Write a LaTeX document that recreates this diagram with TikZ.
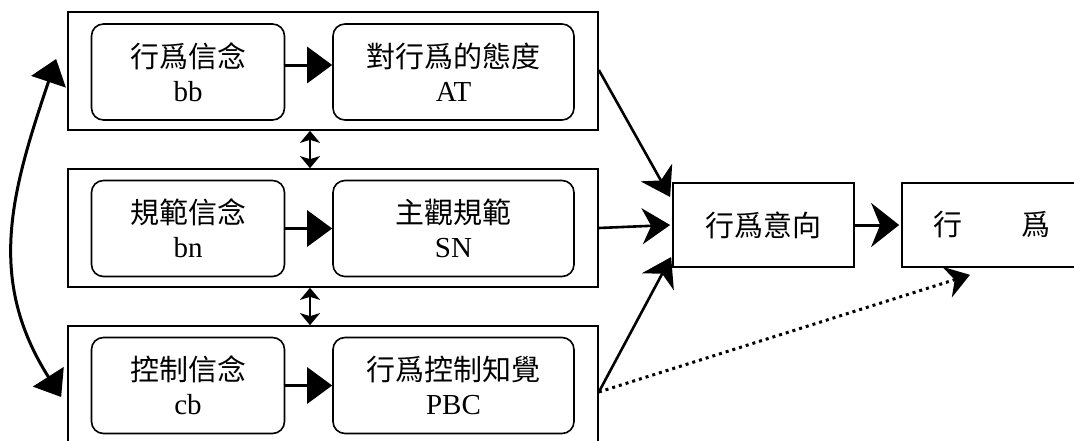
\documentclass[tikz,border=0pt]{standalone}
\usepackage{fontspec}
\setmainfont{Liberation Serif}
\newfontfamily\cjk{Noto Sans CJK TC}
\usetikzlibrary{arrows.meta}
\begin{document}
\begin{tikzpicture}[x=1pt,y=-1pt,
  outerbox/.style={draw,line width=1.7pt,minimum width=530pt,minimum height=118pt,inner sep=0pt},
  innerbox/.style={draw,line width=1.6pt,rounded corners=12pt,minimum height=96pt,inner sep=0pt,align=center,font=\fontsize{29}{34}\selectfont},
  smallbox/.style={innerbox,minimum width=193pt},
  widebox/.style={innerbox,minimum width=241pt},
  rightbox/.style={draw,line width=1.7pt,minimum width=181pt,minimum height=84pt,inner sep=0pt,font=\fontsize{29}{33}\selectfont},
  inarrow/.style={line width=3pt,-{Triangle[length=25pt,width=36pt]}},
  toarrow/.style={line width=2.6pt,-{Stealth[length=28pt,width=36pt,inset=9pt]}},
  bigarrow/.style={line width=3pt,-{Stealth[length=28pt,width=44pt,inset=9pt]}},
  dblarrow/.style={line width=2pt,{Stealth[length=12pt,width=20pt,inset=3pt]}-{Stealth[length=12pt,width=20pt,inset=3pt]}},
  dotarrow/.style={line width=3pt,dash pattern=on 3pt off 4pt,-{Stealth[length=24pt,width=32pt,inset=8pt]}},
  curvearrow/.style={line width=3pt,{Triangle[length=24pt,width=36pt]}-{Triangle[length=24pt,width=36pt]}}
]
\useasboundingbox (0,0) rectangle (1074,440);
\fill[white] (0,0) rectangle (1074,440);

\node[outerbox] (o1) at (333,71) {};
\node[outerbox] (o2) at (333,228) {};
\node[outerbox] (o3) at (333,385) {};

\node[smallbox] (bb) at (188,72) {{\cjk 行爲信念}\\bb};
\node[widebox] (at) at (453.5,72) {{\cjk 對行爲的態度}\\AT};
\node[smallbox] (bn) at (188,228.5) {{\cjk 規範信念}\\bn};
\node[widebox] (sn) at (453.5,228.5) {{\cjk 主觀規範}\\SN};
\node[smallbox] (cb) at (188,385.5) {{\cjk 控制信念}\\cb};
\node[widebox] (pbc) at (453.5,385.5) {{\cjk 行爲控制知覺}\\PBC};

\node[rightbox] (intent) at (763.5,225) {\cjk 行爲意向};
\node[rightbox,minimum width=180pt] (beh) at (992,225) {\cjk 行\hspace{60pt}爲};

\draw[inarrow] ([yshift=7pt]bb.east) -- ([yshift=7pt]at.west);
\draw[inarrow] (bn.east) -- (sn.west);
\draw[inarrow] (cb.east) -- (pbc.west);

\draw[dblarrow] ([xshift=-23pt]o1.south) -- ([xshift=-23pt]o2.north);
\draw[dblarrow] ([xshift=-23pt]o2.south) -- ([xshift=-23pt]o3.north);

\draw[toarrow] ([yshift=1pt]o1.east) -- ([xshift=-2pt,yshift=28pt]intent.west);
\draw[toarrow] (o2.east) -- ([xshift=-2pt]intent.west);
\draw[toarrow] ([yshift=-7pt]o3.east) -- ([xshift=-1pt,yshift=-32pt]intent.west);

\draw[bigarrow] (intent.east) -- ([xshift=-2pt]beh.west);

\coordinate (dotend) at ([xshift=-22pt,yshift=-7pt]beh.south);
\draw[dotarrow] ([yshift=-7pt]o3.east) -- (dotend);

\coordinate (ctop) at ([xshift=-11pt,yshift=12pt]o1.west);
\coordinate (cbot) at ([xshift=-6pt,yshift=-12pt]o3.west);
\draw[curvearrow] (ctop) .. controls (11.5,191.5) and (-14,278.6) .. (cbot);
\end{tikzpicture}
\end{document}
